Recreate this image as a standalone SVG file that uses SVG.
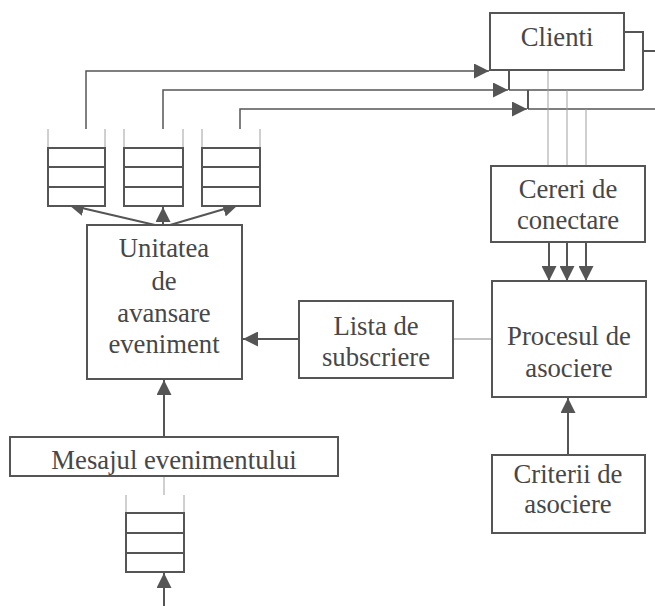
<svg xmlns="http://www.w3.org/2000/svg" width="655" height="606" viewBox="0 0 655 606">
  <style>
    .box { fill: #ffffff; stroke: #555555; stroke-width: 2; }
    .q { fill: #ffffff; stroke: #555555; stroke-width: 2; }
    .div { stroke: #555555; stroke-width: 2; }
    .thin { fill: none; stroke: #a0a0a0; stroke-width: 1; }
    .line { fill: none; stroke: #555555; stroke-width: 2; }
    .lbl { font-family: "Liberation Serif", "Times New Roman", serif; font-size: 26.7px; fill: #474747; text-anchor: middle; }
  </style>
  <defs>
    <marker id="arr" viewBox="0 0 10 10" refX="10" refY="5" markerWidth="15" markerHeight="15" markerUnits="userSpaceOnUse" orient="auto">
      <path d="M0,0 L10,5 L0,10 Z" fill="#555555"/>
    </marker>
  </defs>

  <!-- connectors -->
  <g id="connectors">
    <!-- feedback lines from queues back to clients -->
    <polyline class="line" points="86,129 86,71 489,71" marker-end="url(#arr)" style="stroke-width:1.5"/>
    <polyline class="line" points="163,129 163,90 508,90" marker-end="url(#arr)" style="stroke-width:1.5"/>
    <polyline class="line" points="240,129 240,109 527,109" marker-end="url(#arr)" style="stroke-width:1.5"/>
    <line class="line" x1="509" y1="70" x2="509" y2="90"/>
    <line class="line" x1="528" y1="90" x2="528" y2="109"/>
    <line class="line" x1="509" y1="90" x2="643" y2="90" style="stroke-width:1.5"/>
    <line class="line" x1="528" y1="109" x2="655" y2="109" style="stroke-width:1.5"/>
    <polyline class="line" points="624,32 643,32 643,90"/>
    <line class="line" x1="643" y1="51" x2="655" y2="51"/>

    <!-- clients to connection requests -->
    <line class="thin" x1="548" y1="70" x2="548" y2="166"/>
    <line class="thin" x1="567" y1="90" x2="567" y2="166"/>
    <line class="thin" x1="586" y1="109" x2="586" y2="166"/>

    <!-- connection requests to matching process -->
    <line class="line" x1="549" y1="242" x2="549" y2="281" marker-end="url(#arr)"/>
    <line class="line" x1="567" y1="242" x2="567" y2="281" marker-end="url(#arr)"/>
    <line class="line" x1="586" y1="242" x2="586" y2="281" marker-end="url(#arr)"/>

    <!-- criteria to matching process -->
    <line class="line" x1="568" y1="455" x2="568" y2="398" marker-end="url(#arr)"/>

    <!-- matching process to subscription list -->
    <line class="thin" x1="453" y1="339" x2="492" y2="339" style="stroke:#888"/>

    <!-- subscription list to forwarding unit -->
    <line class="line" x1="299" y1="339" x2="243" y2="339" marker-end="url(#arr)"/>

    <!-- forwarding unit to output queues -->
    <line class="line" x1="155" y1="225" x2="69" y2="205" marker-end="url(#arr)"/>
    <line class="line" x1="163" y1="225" x2="163" y2="207" marker-end="url(#arr)"/>
    <line class="line" x1="170" y1="225" x2="238" y2="205" marker-end="url(#arr)"/>

    <!-- event message to forwarding unit -->
    <line class="line" x1="164" y1="437" x2="164" y2="380" marker-end="url(#arr)"/>
    <line class="thin" x1="164" y1="476" x2="164" y2="495"/>

    <!-- input into bottom queue -->
    <line class="line" x1="164" y1="606" x2="164" y2="573" marker-end="url(#arr)"/>
  </g>

  <!-- output queues -->
  <g id="queue1">
    <line class="thin" x1="48" y1="129" x2="48" y2="148"/>
    <line class="thin" x1="105" y1="129" x2="105" y2="148"/>
    <rect class="q" x="48" y="148" width="57" height="58"/>
    <line class="div" x1="48" y1="167" x2="105" y2="167"/>
    <line class="div" x1="48" y1="187" x2="105" y2="187"/>
  </g>
  <g id="queue2">
    <line class="thin" x1="124" y1="129" x2="124" y2="148"/>
    <line class="thin" x1="183" y1="129" x2="183" y2="148"/>
    <rect class="q" x="124" y="148" width="59" height="58"/>
    <line class="div" x1="124" y1="167" x2="183" y2="167"/>
    <line class="div" x1="124" y1="187" x2="183" y2="187"/>
  </g>
  <g id="queue3">
    <line class="thin" x1="202" y1="129" x2="202" y2="148"/>
    <line class="thin" x1="260" y1="129" x2="260" y2="148"/>
    <rect class="q" x="202" y="148" width="58" height="58"/>
    <line class="div" x1="202" y1="167" x2="260" y2="167"/>
    <line class="div" x1="202" y1="187" x2="260" y2="187"/>
  </g>

  <!-- input queue -->
  <g id="queue-in">
    <line class="thin" x1="126" y1="495" x2="126" y2="513"/>
    <line class="thin" x1="184" y1="495" x2="184" y2="513"/>
    <rect class="q" x="126" y="513" width="58" height="59"/>
    <line class="div" x1="126" y1="533" x2="184" y2="533"/>
    <line class="div" x1="126" y1="553" x2="184" y2="553"/>
  </g>

  <g id="clienti">
    <rect class="box" x="490" y="13" width="134" height="57"/>
    <text class="lbl" x="557" y="46">Clienti</text>
  </g>

  <g id="cereri">
    <rect class="box" x="491" y="166" width="154" height="76"/>
    <text class="lbl" x="568" y="198">Cereri de</text>
    <text class="lbl" x="568" y="229">conectare</text>
  </g>

  <g id="procesul">
    <rect class="box" x="492" y="281" width="154" height="116"/>
    <text class="lbl" x="569" y="345">Procesul de</text>
    <text class="lbl" x="569" y="377">asociere</text>
  </g>

  <g id="criterii">
    <rect class="box" x="492" y="455" width="153" height="78"/>
    <text class="lbl" x="568" y="483">Criterii de</text>
    <text class="lbl" x="568" y="513">asociere</text>
  </g>

  <g id="lista">
    <rect class="box" x="299" y="301" width="154" height="77"/>
    <text class="lbl" x="376" y="335">Lista de</text>
    <text class="lbl" x="376" y="366">subscriere</text>
  </g>

  <g id="unitatea">
    <rect class="box" x="87" y="225" width="155" height="154"/>
    <text class="lbl" x="164" y="257">Unitatea</text>
    <text class="lbl" x="164" y="290">de</text>
    <text class="lbl" x="164" y="322">avansare</text>
    <text class="lbl" x="164" y="353">eveniment</text>
  </g>

  <g id="mesajul">
    <rect class="box" x="10" y="437" width="328" height="39"/>
    <text class="lbl" x="174" y="469">Mesajul evenimentului</text>
  </g>
</svg>
